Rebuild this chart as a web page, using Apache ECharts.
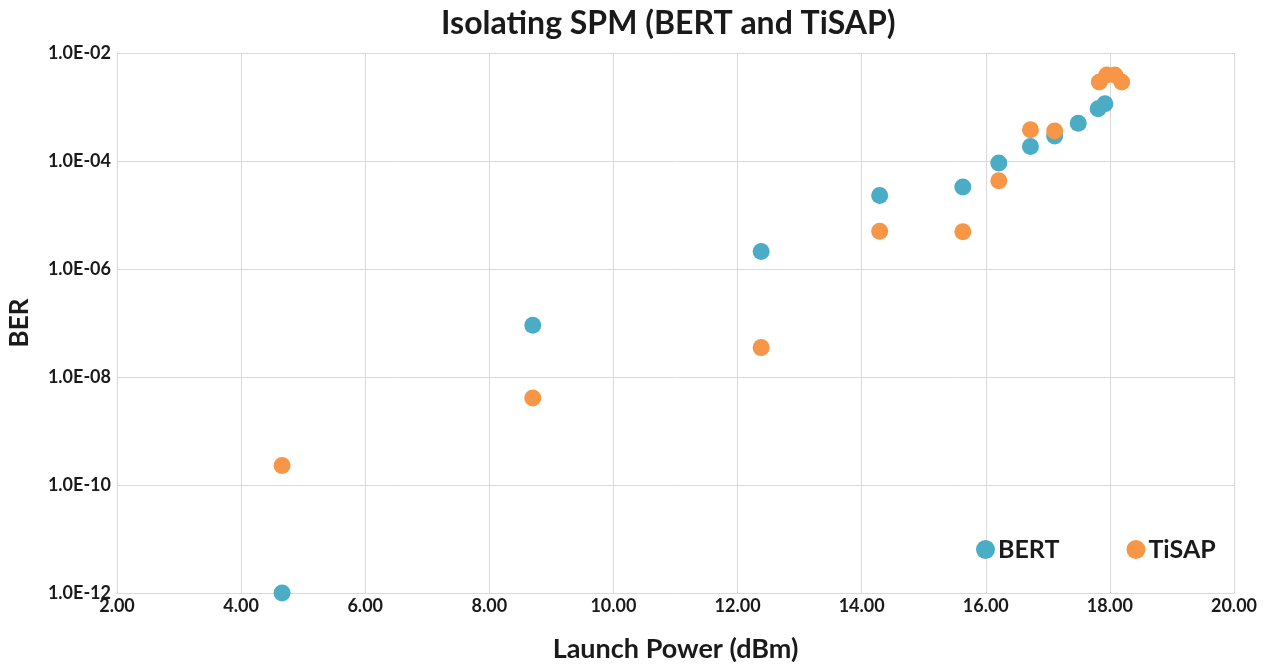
<!DOCTYPE html>
<html>
<head>
<meta charset="utf-8">
<script src="https://cdn.jsdelivr.net/npm/echarts@6/dist/echarts.min.js"></script>
<style>
  html, body { margin: 0; padding: 0; background: #fff; }
  #chart { width: 1274px; height: 669px; }
</style>
</head>
<body>
<div id="chart"></div>
<script>
// launch power (dBm) and BER
const bertPower = [4.66, 8.70, 12.38, 14.29, 15.63, 16.21, 16.72, 17.11, 17.49, 17.81, 17.92];
const bertBer = [1.0e-12, 9.1e-8, 2.1e-6, 2.3e-5, 3.3e-5, 9.2e-5, 1.86e-4, 2.9e-4, 5.0e-4, 9.3e-4, 1.15e-3];

const tisapPower = [4.66, 8.70, 12.38, 14.29, 15.63, 16.21, 16.72, 17.11, 17.83, 17.95, 18.08, 18.19];
const tisapBer = [2.3e-10, 4.1e-9, 3.5e-8, 5.0e-6, 4.9e-6, 4.3e-5, 3.8e-4, 3.6e-4, 2.9e-3, 3.9e-3, 3.9e-3, 2.9e-3];

const seriesNames = ['BERT', 'TiSAP'];
const seriesColors = ['#4BACC6', '#F79646'];

function pairs(xs, ys) {
  return xs.map((x, i) => [x, ys[i]]);
}

function sciLabel(v) {
  const e = Math.round(Math.log10(v));
  const m = v / Math.pow(10, e);
  const sign = e < 0 ? '-' : '+';
  const abs = Math.abs(e);
  return m.toFixed(1) + 'E' + sign + (abs < 10 ? '0' + abs : abs);
}

const chart = echarts.init(document.getElementById('chart'));

const font = 'Lato, "Noto Sans", sans-serif';

const option = {
  backgroundColor: '#ffffff',
  color: seriesColors,
  textStyle: { fontFamily: font },
  title: {
    text: 'Isolating SPM (BERT and TiSAP)',
    left: 436,
    top: 3,
    textStyle: { fontFamily: font, fontSize: 32, fontWeight: 'bold', color: '#1a1a1a' }
  },
  grid: { left: 117, right: 40, top: 53, bottom: 76, containLabel: false, outerBoundsMode: 'none' },
  legend: {
    data: seriesNames,
    left: 971,
    top: 532,
    icon: 'circle',
    itemWidth: 19,
    itemHeight: 19,
    itemGap: 67,
    textStyle: { fontFamily: font, fontSize: 25, fontWeight: 'bold', color: '#1a1a1a', padding: [0, 0, 0, -2] }
  },
  xAxis: {
    type: 'value',
    min: 2,
    max: 20,
    interval: 2,
    name: 'Launch Power (dBm)',
    nameLocation: 'middle',
    nameGap: 43,
    nameTextStyle: { fontFamily: font, fontSize: 27, fontWeight: 'bold', color: '#1a1a1a' },
    axisLine: { show: true, lineStyle: { color: '#d9d9d9' } },
    axisTick: { show: false },
    axisLabel: {
      formatter: v => v.toFixed(2),
      fontFamily: font, fontSize: 18, fontWeight: 'bold', color: '#1a1a1a', margin: 4
    },
    splitLine: { show: true, lineStyle: { color: '#d9d9d9' } }
  },
  yAxis: {
    type: 'log',
    logBase: 10,
    min: 1e-12,
    max: 1e-2,
    interval: 2,
    name: 'BER',
    nameLocation: 'middle',
    nameRotate: 90,
    nameGap: 84,
    nameTextStyle: { fontFamily: font, fontSize: 26, fontWeight: 'bold', color: '#1a1a1a' },
    axisLine: { show: true, lineStyle: { color: '#d9d9d9' } },
    axisTick: { show: false },
    axisLabel: {
      formatter: sciLabel,
      fontFamily: font, fontSize: 18, fontWeight: 'bold', color: '#1a1a1a', margin: 6
    },
    splitLine: { show: true, lineStyle: { color: '#d9d9d9' } }
  },
  series: [
    {
      name: seriesNames[0],
      type: 'scatter',
      symbol: 'circle',
      symbolSize: 17,
      itemStyle: { opacity: 1 },
      data: pairs(bertPower, bertBer),
      z: 2
    },
    {
      name: seriesNames[1],
      type: 'scatter',
      symbol: 'circle',
      symbolSize: 17,
      itemStyle: { opacity: 1 },
      data: pairs(tisapPower, tisapBer),
      z: 3
    }
  ]
};

chart.setOption(option);
</script>
</body>
</html>
